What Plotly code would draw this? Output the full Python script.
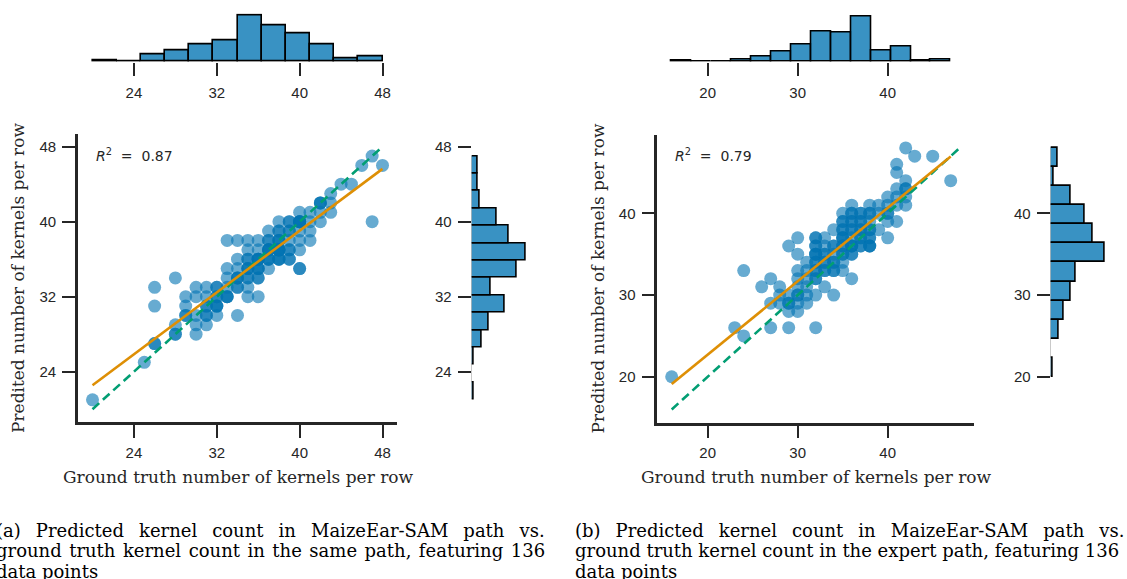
import numpy as np
import plotly.graph_objects as go

W, H = 1127, 579

# ---------------- Panel (a): predicted vs ground truth (same path) ----------------
gt_a = [20, 25, 26, 26, 26, 28, 28, 28, 29, 29, 29,
        30, 30, 30, 30, 30, 31, 31, 31, 31, 31,
        32, 32, 32, 32, 33, 33, 33, 33, 33,
        34, 34, 34, 34, 34, 34, 35, 35, 35, 35, 35, 35, 35,
        36, 36, 36, 36, 36, 36, 37, 37, 37, 37, 37,
        38, 38, 38, 38, 38, 39, 39, 39, 39, 39,
        40, 40, 40, 40, 40, 40, 41, 41, 41, 41,
        42, 42, 42, 43, 43, 43, 44, 45, 46, 47, 47, 48]
pred_a = [21, 25, 27, 31, 33, 34, 28, 29, 30, 32, 31,
          28, 33, 32, 29, 30, 33, 32, 30, 29, 31,
          33, 31, 32, 30, 35, 38, 32, 33, 34,
          38, 35, 34, 33, 30, 36, 37, 35, 32, 36, 34, 33, 38,
          36, 35, 34, 32, 37, 38, 38, 36, 35, 37, 39,
          40, 39, 38, 36, 37, 39, 37, 40, 38, 36,
          40, 39, 38, 35, 37, 41, 40, 41, 38, 39,
          42, 40, 41, 43, 41, 42, 44, 44, 46, 47, 40, 46]
mult_a = [1, 1, 2, 1, 1, 1, 2, 1, 2, 1, 1,
          1, 1, 1, 1, 1, 1, 1, 2, 1, 2,
          2, 3, 2, 1, 1, 1, 3, 1, 1,
          1, 1, 3, 2, 1, 1, 1, 3, 1, 2, 2, 1, 1,
          4, 3, 2, 1, 1, 1, 2, 3, 1, 4, 1,
          1, 2, 3, 3, 5, 2, 2, 2, 1, 2,
          5, 1, 1, 2, 1, 1, 1, 1, 1, 1,
          3, 1, 1, 1, 1, 1, 1, 1, 1, 1, 1, 1]
r2_a = "0.87"

# marginal histogram counts
gt_a_bins = (20, 48, 12)          # start, end, number of bins
gt_a_counts = [1, 0, 5, 8, 12, 15, 32, 25, 20, 12, 2, 4]
pred_a_bins = (21, 47, 14)
pred_a_counts = [1, 0, 1, 5, 9, 17, 10, 23, 28, 19, 13, 4, 3, 3]

# ---------------- Panel (b): predicted vs ground truth (expert path) ----------------
gt_b = [16, 23, 24, 24, 26, 27, 27, 27,
        28, 28, 29, 29, 29, 29, 28, 29,
        30, 30, 30, 30, 30, 30, 30, 30, 31, 31, 31, 31, 31, 31,
        32, 32, 32, 32, 32, 32, 32, 32, 33, 33, 33, 33, 33, 33,
        34, 34, 34, 34, 34, 34, 35, 35, 35, 35, 35, 35, 35, 35,
        36, 36, 36, 36, 36, 36, 36, 36, 37, 37, 37, 37, 37,
        38, 38, 38, 38, 38, 38,
        39, 39, 39, 40, 40, 40, 40, 40,
        41, 41, 41, 41, 41, 42, 42, 42, 42, 42, 41,
        43, 45, 47]
pred_b = [20, 26, 25, 33, 31, 32, 29, 26,
          31, 30, 29, 28, 26, 36, 29, 30,
          37, 35, 32, 31, 29, 28, 30, 33, 34, 33, 31, 29, 32, 30,
          37, 35, 34, 33, 32, 30, 26, 36, 37, 35, 33, 31, 34, 36,
          36, 34, 30, 35, 33, 38, 40, 39, 38, 37, 36, 35, 33, 34,
          41, 40, 39, 38, 36, 35, 32, 37, 40, 38, 37, 39, 36,
          41, 40, 38, 37, 36, 39,
          41, 40, 38, 42, 41, 40, 39, 37,
          46, 45, 43, 41, 39, 44, 43, 42, 48, 41, 42,
          47, 47, 44]
mult_b = [1, 1, 1, 1, 1, 1, 1, 1,
          1, 1, 2, 1, 1, 1, 1, 1,
          1, 1, 1, 1, 1, 1, 2, 1, 1, 1, 1, 1, 1, 1,
          2, 3, 2, 2, 2, 1, 1, 2, 1, 2, 2, 1, 2, 1,
          2, 2, 1, 1, 2, 1, 1, 2, 2, 3, 2, 2, 1, 1,
          1, 2, 2, 2, 3, 2, 1, 1, 2, 2, 2, 2, 2,
          1, 2, 2, 2, 3, 1,
          1, 1, 1, 1, 1, 2, 1, 1,
          1, 1, 1, 1, 1, 1, 2, 1, 1, 1, 1,
          1, 1, 1]
r2_b = "0.79"

gt_b_bins = (16, 47, 14)
gt_b_counts = [1, 0, 0, 2, 4, 8, 14, 24, 23, 36, 9, 12, 1, 2]
pred_b_bins = (20, 48, 12)
pred_b_counts = [1, 0, 5, 8, 12, 15, 32, 25, 20, 12, 2, 4]

# ---------------- styling ----------------
BLUE = "#0173b2"
ORANGE = "#de8f05"
GREEN = "#029e73"
HIST_FILL = "rgba(1,115,178,0.78)"
INK = "#262626"
TICK_FONT = dict(family="Liberation Sans, Arial, sans-serif", size=15, color=INK)
SERIF = "DejaVu Serif, serif"

fig = go.Figure()


def px_x(p):
    return p / W


def px_y(p):
    return 1 - p / H


def add_panel(idx, gt, pred, mult, r2, gt_bins, gt_counts, pr_bins, pr_counts,
              dom_x, dom_y, top_dom_y, right_dom_x, tickvals, r2_pos):
    xs = np.repeat(np.array(gt, float), mult)
    ys = np.repeat(np.array(pred, float), mult)
    lo = min(xs.min(), ys.min())
    hi = max(xs.max(), ys.max())
    pad = 0.05 * (hi - lo)
    rng = [lo - pad, hi + pad]

    n = 3 * idx
    xs_name = "x" if n == 0 else f"x{n + 1}"
    ys_name = "y" if n == 0 else f"y{n + 1}"
    xt_name, yt_name = f"x{n + 2}", f"y{n + 2}"
    xr_name, yr_name = f"x{n + 3}", f"y{n + 3}"

    # scatter
    fig.add_trace(go.Scatter(x=xs, y=ys, mode="markers", xaxis=xs_name, yaxis=ys_name,
                             marker=dict(color=BLUE, opacity=0.6, size=13, line=dict(width=0)),
                             showlegend=False, hoverinfo="skip"))
    # identity line
    fig.add_trace(go.Scatter(x=[lo, hi], y=[lo, hi], mode="lines", xaxis=xs_name, yaxis=ys_name,
                             line=dict(color=GREEN, width=2.6, dash="9px,5px"),
                             showlegend=False, hoverinfo="skip"))
    # regression fit
    slope, icpt = np.polyfit(xs, ys, 1)
    fx = np.array([xs.min(), xs.max()])
    fig.add_trace(go.Scatter(x=fx, y=icpt + slope * fx, mode="lines", xaxis=xs_name, yaxis=ys_name,
                             line=dict(color=ORANGE, width=2.6),
                             showlegend=False, hoverinfo="skip"))

    # top histogram (ground truth)
    e = np.linspace(gt_bins[0], gt_bins[1], gt_bins[2] + 1)
    fig.add_trace(go.Bar(x=e[:-1], y=gt_counts, width=e[1] - e[0], offset=0,
                         xaxis=xt_name, yaxis=yt_name,
                         marker=dict(color=HIST_FILL, line=dict(color="black", width=1.6)),
                         showlegend=False, hoverinfo="skip"))
    # right histogram (prediction)
    e2 = np.linspace(pr_bins[0], pr_bins[1], pr_bins[2] + 1)
    fig.add_trace(go.Bar(y=e2[:-1], x=pr_counts, width=e2[1] - e2[0], offset=0, orientation="h",
                         xaxis=xr_name, yaxis=yr_name,
                         marker=dict(color=HIST_FILL, line=dict(color="black", width=1.6)),
                         showlegend=False, hoverinfo="skip"))

    common = dict(ticks="outside", ticklen=13, tickwidth=2.4, tickcolor=INK,
                  tickfont=TICK_FONT, showgrid=False, zeroline=False,
                  tickvals=tickvals)
    k = lambda name: name.replace("x", "xaxis").replace("y", "yaxis")
    fig.layout[k(xs_name)] = dict(domain=dom_x, range=rng, anchor=ys_name,
                                 showline=True, linewidth=2.6, linecolor=INK,
                                 ticklabelstandoff=2, **common)
    fig.layout[k(ys_name)] = dict(domain=dom_y, range=rng, anchor=xs_name,
                                 showline=True, linewidth=2.6, linecolor=INK,
                                 ticklabelstandoff=3, **common)
    fig.layout[k(xt_name)] = dict(domain=dom_x, matches=xs_name, anchor=yt_name,
                                 showline=False, ticklabelstandoff=4, **common)
    fig.layout[k(yt_name)] = dict(domain=top_dom_y, range=[0, max(gt_counts) * 1.05],
                                 anchor=xt_name, visible=False)
    fig.layout[k(xr_name)] = dict(domain=right_dom_x, range=[0, max(pr_counts) * 1.05],
                                 anchor=yr_name, visible=False)
    fig.layout[k(yr_name)] = dict(domain=dom_y, matches=ys_name, anchor=xr_name,
                                 showline=False, ticklabelstandoff=3, **common)

    fig.add_annotation(x=r2_pos[0], y=r2_pos[1], xref="paper", yref="paper",
                       xanchor="left", yanchor="middle", showarrow=False,
                       text=f"<i>R</i><sup>2</sup>\u00a0\u00a0=\u00a0 {r2}",
                       font=dict(family="DejaVu Sans, sans-serif", size=14, color=INK))


add_panel(0, gt_a, pred_a, mult_a, r2_a, gt_a_bins, gt_a_counts, pred_a_bins, pred_a_counts,
          [px_x(78), px_x(397)], [px_y(422.3), px_y(133.6)], [px_y(61.7), px_y(13.4)],
          [px_x(471.7), px_x(528.7)], [24, 32, 40, 48], (px_x(94), px_y(155.5)))
add_panel(1, gt_b, pred_b, mult_b, r2_b, gt_b_bins, gt_b_counts, pred_b_bins, pred_b_counts,
          [px_x(657.3), px_x(974.1)], [px_y(422.5), px_y(134.9)], [px_y(61.7), px_y(14.5)],
          [px_x(1050.7), px_x(1107)], [20, 30, 40], (px_x(673), px_y(155.5)))

# axis titles
xlabel = "Ground truth number of kernels per row"
ylabel = "Predited number of kernels per row"
for cx, cy in [(238, 477), (816, 477)]:
    fig.add_annotation(x=px_x(cx), y=px_y(cy), xref="paper", yref="paper", showarrow=False,
                       text=xlabel, xanchor="center", yanchor="middle",
                       font=dict(family=SERIF, size=17, color=INK))
for cx, cy in [(17.5, 278.5), (597, 278.5)]:
    fig.add_annotation(x=px_x(cx), y=px_y(cy), xref="paper", yref="paper", showarrow=False,
                       text=ylabel, textangle=-90, xanchor="center", yanchor="middle",
                       font=dict(family=SERIF, size=17, color=INK))

# captions (justified lines emulated with wider word gaps)
cap_a = ["(a) Predicted kernel count in MaizeEar-SAM path vs.",
         "ground truth kernel count in the same path, featuring 136",
         "data points"]
cap_b = ["(b) Predicted kernel count in MaizeEar-SAM path vs.",
         "ground truth kernel count in the expert path, featuring 136",
         "data points"]
gaps_a = ["\u00a0\u00a0\u2009", "\u00a0\u200a", " "]
gaps_b = ["\u00a0\u00a0\u2009", " ", " "]
for left, cap, gaps in [(-6, cap_a, gaps_a), (573, cap_b, gaps_b)]:
    for i, line in enumerate(cap):
        txt = gaps[i].join(line.split(" "))
        fig.add_annotation(x=px_x(left), y=px_y(530 + 20.5 * i), xref="paper", yref="paper",
                           showarrow=False, text=txt, xanchor="left", yanchor="middle",
                           font=dict(family=SERIF, size=18, color="black"))

fig.update_layout(width=W, height=H, margin=dict(l=0, r=0, t=0, b=0),
                  paper_bgcolor="white", plot_bgcolor="rgba(0,0,0,0)",
                  bargap=0, showlegend=False)

fig.write_html("out.html", config={"displayModeBar": False},
               post_script="document.body.style.margin='0';")
